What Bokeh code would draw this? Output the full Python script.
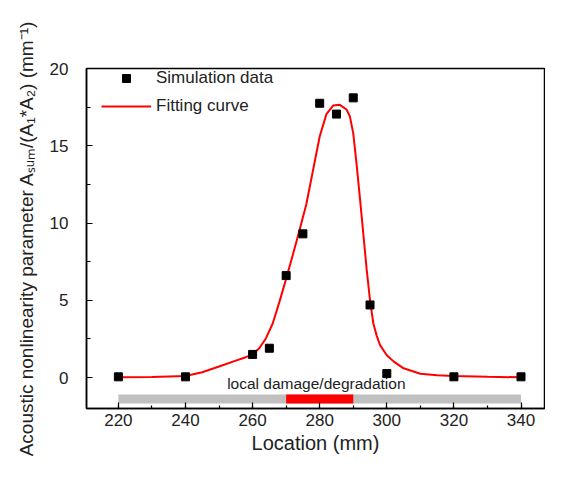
from bokeh.plotting import figure
from bokeh.models import Range1d, SingleIntervalTicker, Legend, LegendItem, Label
from bokeh.embed import file_html
from bokeh.resources import INLINE

# ---- data ----
location_mm = [220, 240, 260, 265, 270, 275, 280, 285, 290, 295, 300, 320, 340]
sim_param = [0.05, 0.05, 1.5, 1.9, 6.6, 9.3, 17.75, 17.05, 18.1, 4.7, 0.26, 0.05, 0.05]

fit_x = [220, 230, 240, 245, 250, 255, 258, 260, 262, 264, 266, 268, 270, 272, 274,
         276, 278, 280, 282, 284, 286, 288, 289, 290, 291, 292, 293, 294, 295, 296,
         297, 298, 300, 302, 305, 310, 315, 320, 330, 340]
fit_y = [0.02, 0.04, 0.1, 0.35, 0.72, 1.1, 1.32, 1.5, 1.9, 2.55, 3.5, 4.9, 6.4, 7.95, 9.55,
         11.2, 13.4, 15.6, 17.05, 17.6, 17.65, 17.35, 16.9, 15.8, 13.8, 11.6, 9.3, 7.0, 5.0, 3.5,
         2.7, 2.1, 1.45, 1.05, 0.6, 0.25, 0.15, 0.1, 0.05, 0.02]

scan_start, scan_end = 220, 340
damage_start, damage_end = 270, 290
damage_label = "local damage/degradation"

FONT = "Liberation Sans"

p = figure(width=545, height=462, output_backend="svg", toolbar_location=None,
           x_range=Range1d(210.5, 347), y_range=Range1d(-2, 20),
           min_border_left=86, min_border_right=1, min_border_top=68, min_border_bottom=54)
p.background_fill_color = "white"
p.border_fill_color = "white"
p.xgrid.visible = False
p.ygrid.visible = False
p.outline_line_color = "black"
p.outline_line_width = 1.5

# scan bar and damage region
p.quad(left=[scan_start], right=[scan_end], bottom=[-1.68], top=[-1.1],
       fill_color="#C0C0C0", line_color=None)
p.quad(left=[damage_start], right=[damage_end], bottom=[-1.68], top=[-1.1],
       fill_color="#FF0000", line_color=None)

line_r = p.line(fit_x, fit_y, line_color="#FF0000", line_width=2)
sq_r = p.scatter(location_mm, sim_param, marker="square", size=8,
                 fill_color="black", line_color="black")

p.add_layout(Label(x=279, y=-0.4, text=damage_label, text_align="center",
                   text_baseline="middle", text_font=FONT, text_font_size="15.5px",
                   text_color="#222222"))
p.add_layout(Label(x=209.3, y=20.65, text="x10\u207b\u2076", text_align="left",
                   text_baseline="bottom", text_font=FONT, text_font_size="16px",
                   text_color="#222222"))

for ax in (p.xaxis[0], p.yaxis[0]):
    ax.axis_line_color = "black"
    ax.axis_line_width = 1.5
    ax.major_tick_line_color = "black"
    ax.minor_tick_line_color = "black"
    ax.major_tick_line_width = 1.2
    ax.minor_tick_line_width = 1.2
    ax.major_tick_out = 0
    ax.minor_tick_out = 0
    ax.major_label_text_font = FONT
    ax.major_label_text_font_size = "17px"
    ax.major_label_text_color = "#222222"
    ax.axis_label_text_font = FONT
    ax.axis_label_text_font_style = "normal"
    ax.axis_label_text_color = "#222222"

p.xaxis.ticker = SingleIntervalTicker(interval=20, num_minor_ticks=2)
p.yaxis.ticker = SingleIntervalTicker(interval=5, num_minor_ticks=2)
p.xaxis.major_tick_in = 6
p.xaxis.minor_tick_in = 3
p.yaxis.major_tick_in = 6
p.yaxis.minor_tick_in = 4
p.xaxis.major_label_standoff = 5
p.yaxis.major_label_standoff = 18
p.xaxis.axis_label = "Location (mm)"
p.xaxis.axis_label_text_font_size = "20px"
p.xaxis.axis_label_standoff = 3
p.yaxis.axis_label = "Acoustic nonlinearity parameter A\u209b\u1d64\u2098/(A\u2081*A\u2082) (mm\u207b\u00b9)"
p.yaxis.axis_label_text_font_size = "19px"
p.yaxis.axis_label_standoff = 10

legend = Legend(items=[LegendItem(label="Simulation data", renderers=[sq_r]),
                       LegendItem(label="Fitting curve", renderers=[line_r])],
                location=(15, 292), padding=0, margin=0, spacing=8,
                glyph_width=50, glyph_height=20, label_height=20, label_standoff=5,
                border_line_color=None, background_fill_alpha=0,
                label_text_font=FONT, label_text_font_size="17px",
                label_text_color="#222222")
p.add_layout(legend)

open("out.html", "w").write(file_html(p, INLINE))
